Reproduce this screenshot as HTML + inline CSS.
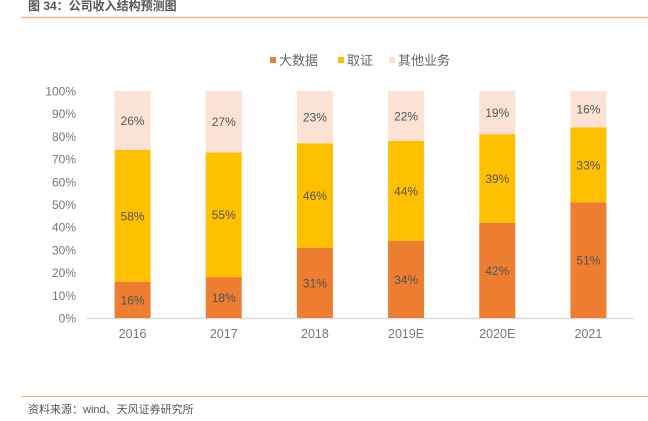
<!DOCTYPE html>
<html><head><meta charset="utf-8"><style>
body{margin:0;background:#fff;}
svg text{font-family:"Liberation Sans","Noto Sans CJK SC",sans-serif;}
</style></head><body>
<svg width="648" height="416" xmlns="http://www.w3.org/2000/svg">
<text x="28" y="10" font-size="12" font-weight="bold" fill="#555">图 34：公司收入结构预测图</text>
<line x1="21" y1="17.5" x2="648" y2="17.5" stroke="#f5b383" stroke-width="1.5"/>
<line x1="21" y1="396.5" x2="648" y2="396.5" stroke="#f5a86a" stroke-width="1"/>
<text x="28" y="413" font-size="11" fill="#555">资料来源：wind、天风证券研究所</text>
<g>
<rect x="270" y="57" width="6" height="6" fill="#ed7d31"/>
<text x="279" y="65" font-size="13" fill="#666">大数据</text>
<rect x="338" y="57" width="6" height="6" fill="#ffc000"/>
<text x="347" y="65" font-size="13" fill="#666">取证</text>
<rect x="389" y="57" width="6" height="6" fill="#fbe2d5"/>
<text x="398" y="65" font-size="13" fill="#666">其他业务</text>
</g>
<g id="axes"></g>
<g id="bars"></g>
</svg>
<script>
const categories=["2016","2017","2018","2019E","2020E","2021"];
const bigData=[16,18,31,34,42,51];
const forensics=[58,55,46,44,39,33];
const other=[26,27,23,22,19,16];
const yTicks=[0,10,20,30,40,50,60,70,80,90,100];
const NS="http://www.w3.org/2000/svg";
const y0=318,y1=91,xL=87,xR=634;
const y=v=>y0-(y0-y1)*v/100;
const step=(xR-xL)/categories.length;
const xc=i=>xL+step*(i+0.5);
const bw=36;
const axes=document.getElementById('axes'),bars=document.getElementById('bars');
function mk(tag,attrs,parent,txt){const e=document.createElementNS(NS,tag);for(const k in attrs)e.setAttribute(k,attrs[k]);if(txt!==undefined)e.textContent=txt;parent.appendChild(e);return e;}
yTicks.forEach(t=>{
  const e=mk('text',{x:76,y:y(t)+4.5,'font-size':12,fill:'#777','text-anchor':'end'},axes,t+'%');
  
  
});
const ax=mk('line',{x1:xL,y1:y0+0.5,x2:xR,y2:y0+0.5,stroke:'#d9d9d9','stroke-width':1.5},axes);


categories.forEach((c,i)=>{
  const e=mk('text',{x:xc(i),y:338,'font-size':12.5,fill:'#777','text-anchor':'middle'},axes,c);
  
  
  const series=[[bigData,'#ed7d31','bigdata'],[forensics,'#ffc000','forensics'],[other,'#fbe2d5','other']];
  let acc=0;
  series.forEach(([arr,col,nm])=>{
    const v=arr[i];
    const r=mk('rect',{x:xc(i)-bw/2,y:y(acc+v),width:bw,height:y(acc)-y(acc+v),fill:col},bars);
    
    
    const l=mk('text',{x:xc(i),y:(y(acc)+y(acc+v))/2+4.5,'font-size':12,fill:'#555','text-anchor':'middle'},bars,v+'%');
    
    
    acc+=v;
  });
});
</script>
</body></html>
